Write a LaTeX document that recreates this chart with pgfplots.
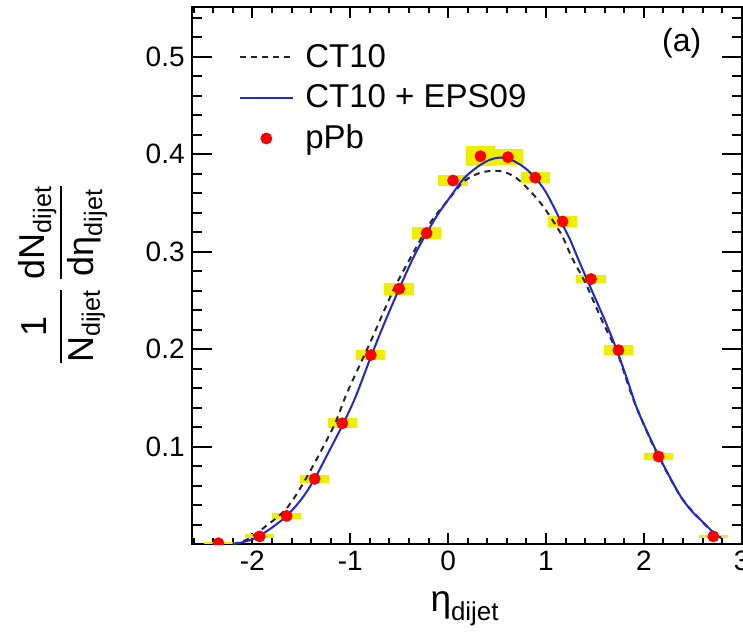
\documentclass[border=0pt]{standalone}
\usepackage{fontspec}
\setmainfont{Liberation Sans}
\usepackage{amsmath}
\usepackage{pgfplots}
\pgfplotsset{compat=1.18}
\usepackage{pgfplotstable}
\definecolor{sysyellow}{RGB}{238,238,0}
\definecolor{curveblue}{RGB}{30,40,215}
\definecolor{ptred}{RGB}{250,0,0}

\pgfplotstableread{
x y ey
-2.347 0.001 0.0008
-1.926 0.008 0.0020
-1.650 0.029 0.0035
-1.364 0.067 0.0040
-1.082 0.124 0.0050
-0.790 0.194 0.0050
-0.500 0.262 0.0060
-0.220 0.319 0.0060
 0.050 0.373 0.0060
 0.330 0.398 0.0100
 0.610 0.397 0.0080
 0.890 0.376 0.0060
 1.170 0.331 0.0060
 1.460 0.272 0.0046
 1.740 0.199 0.0050
 2.150 0.090 0.0035
 2.710 0.008 0.0015
}\pPb

\pgfplotstableread{
x y
-2.200 0.0000
-2.050 0.0050
-1.890 0.0163
-1.650 0.0368
-1.443 0.0690
-1.171 0.1205
-1.034 0.1550
-0.800 0.2060
-0.557 0.2610
-0.350 0.3000
-0.180 0.3300
 0.000 0.3530
 0.160 0.3720
 0.330 0.3810
 0.500 0.3830
 0.620 0.3800
 0.740 0.3720
 0.945 0.3500
 1.150 0.3190
 1.270 0.2930
 1.405 0.2676
 1.570 0.2300
 1.730 0.1960
 1.883 0.1510
 2.050 0.1110
 2.156 0.0890
 2.378 0.0485
 2.582 0.0246
 2.720 0.0110
 2.790 0.0064
}\ctten

\pgfplotstableread{
x y
-2.200 0.0000
-2.100 0.0020
-2.000 0.0050
-1.926 0.0087
-1.800 0.0170
-1.650 0.0290
-1.500 0.0460
-1.370 0.0660
-1.200 0.0985
-1.080 0.1220
-0.950 0.1500
-0.790 0.1920
-0.650 0.2270
-0.500 0.2620
-0.350 0.2950
-0.220 0.3190
-0.100 0.3390
 0.020 0.3560
 0.160 0.3750
 0.300 0.3870
 0.420 0.3940
 0.530 0.3965
 0.650 0.3940
 0.770 0.3870
 0.880 0.3770
 1.000 0.3610
 1.146 0.3325
 1.248 0.3120
 1.333 0.2915
 1.452 0.2640
 1.600 0.2300
 1.724 0.1990
 1.830 0.1690
 1.929 0.1394
 2.050 0.1120
 2.156 0.0897
 2.270 0.0680
 2.378 0.0487
 2.480 0.0350
 2.582 0.0248
 2.720 0.0110
 2.790 0.0064
}\epsnine

\begin{document}
\begin{tikzpicture}
\begin{axis}[
  name=ax,
  scale only axis,
  width=275pt, height=268.75pt,
  xmin=-2.62, xmax=3, ymin=0, ymax=0.5513,
  axis line style={line width=1pt},
  tick align=inside,
  xtick={-2,-1,0,1,2,3},
  ytick={0.1,0.2,0.3,0.4,0.5},
  minor xtick={-2.6,-2.4,...,3.0},
  minor ytick={0,0.02,...,0.54},
  tick style={black, line width=1pt},
  xtick style={/pgfplots/major tick length=5.5pt, /pgfplots/minor tick length=3pt},
  ytick style={/pgfplots/major tick length=10pt, /pgfplots/minor tick length=5pt},
  /pgf/number format/assume math mode=true,
  yticklabel style={/pgf/number format/fixed, /pgf/number format/precision=1},
  tick label style={font=\fontsize{14}{16}\selectfont},
  xlabel={$\text{η}_{\text{dijet}}$},
  xlabel style={font=\fontsize{18.5}{21}\selectfont, at={(axis description cs:0.497,-0.1206)}, anchor=center},
  ylabel={$\displaystyle\frac{\text{1}}{\text{N}_{\text{dijet}}}\,\frac{\text{dN}_{\text{dijet}}}{\text{dη}_{\text{dijet}}}$},
  ylabel style={font=\fontsize{18}{21}\selectfont, at={(axis description cs:-0.234,0.502)}, anchor=center},
  clip marker paths=true,
  legend style={draw=none, fill=none, at={(axis description cs:0.075,0.946)}, anchor=north west,
    font=\fontsize{16.5}{19}\selectfont, row sep=3.2pt,
    /tikz/every odd column/.append style={column sep=4pt}},
  legend cell align=left,
  legend image code/.code={\draw[mark repeat=2,mark phase=2,#1] plot coordinates {(0pt,0pt) (13pt,0pt) (26pt,0pt)};},
]
\addplot[draw=none, mark=none, forget plot,
  error bars/.cd, y dir=both, y explicit, error mark=none,
  error bar style={draw=sysyellow, line width=14.7pt, solid}]
  table[x=x, y=y, y error=ey] {\pPb};
\addplot[black!85, line width=1pt, dash pattern=on 3pt off 2.5pt, smooth] table[x=x,y=y] {\ctten};
\addplot[curveblue, line width=1pt, smooth] table[x=x,y=y] {\epsnine};
\addplot[only marks, mark=*, mark size=2.75pt, color=ptred, mark options={draw=ptred, fill=ptred}] table[x=x,y=y] {\pPb};
\legend{CT10, CT10 + EPS09, pPb}
\node[font=\fontsize{16}{19}\selectfont] at (axis description cs:0.891,0.9325) {(a)};
\end{axis}
\pgfresetboundingbox
\path[use as bounding box] ([xshift=-95.85pt,yshift=-45.9pt]ax.south west) rectangle ([xshift=0.65pt,yshift=3.35pt]ax.north east);
\end{tikzpicture}
\end{document}
